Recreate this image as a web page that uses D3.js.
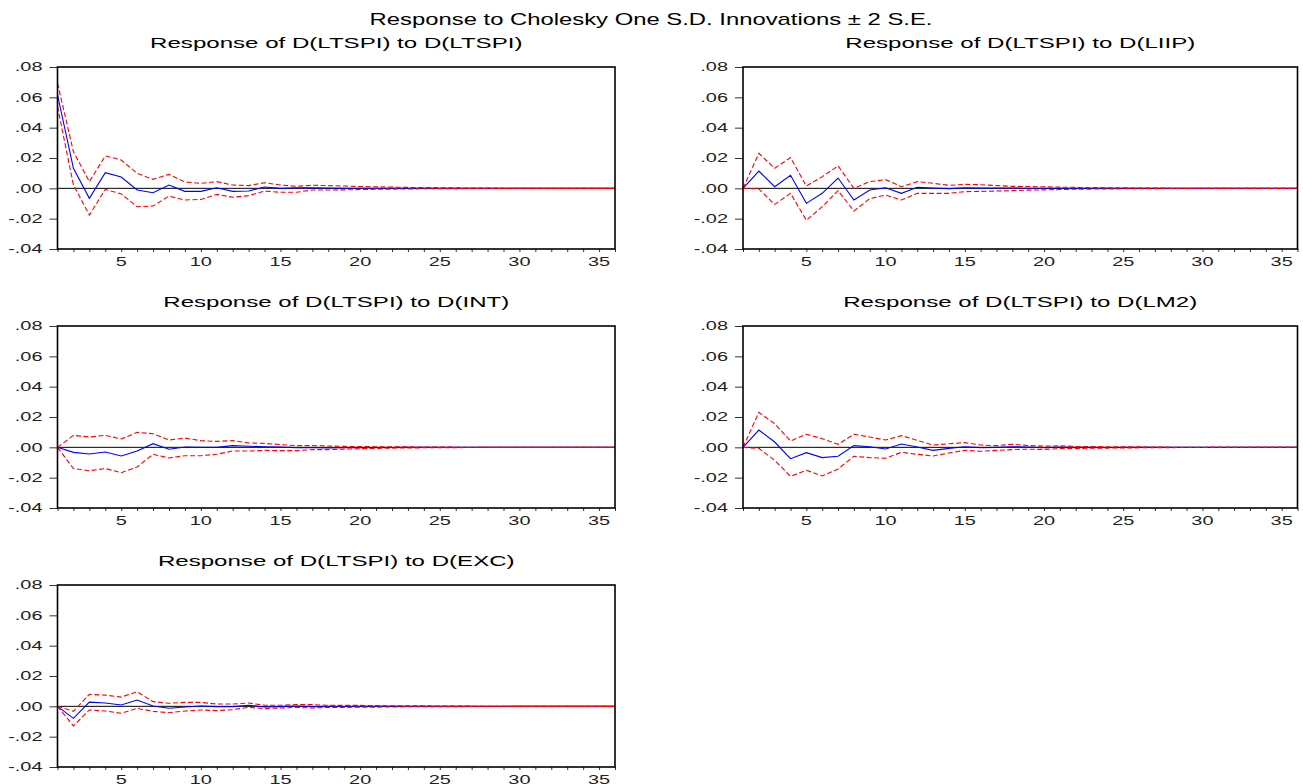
<!DOCTYPE html>
<html><head><meta charset="utf-8">
<script src="https://cdn.jsdelivr.net/npm/d3@7/dist/d3.min.js"></script>
<style>body{margin:0;background:#fff;overflow:hidden}</style>
</head><body>
<svg id="c" width="1303" height="784"></svg>
<script>
// ---------- data ----------
const periods = [1,2,3,4,5,6,7,8,9,10,11,12,13,14,15,16,17,18,19,20,21,22,23,24,25,26,27,28,29,30,31,32,33,34,35,36];

const respLTSPI  = [0.0617,0.0132,-0.0066,0.0103,0.0075,-0.0011,-0.0029,0.0022,-0.0020,-0.0020,0.0004,-0.0020,-0.0018,0.0009,0.0000,0.0003,0.0004,0.0002,0.0001,0.0001,0.0000,0.0001,0,0,0,0,0,0,0,0,0,0,0,0,0,0];
const upperLTSPI = [0.0694,0.0242,0.0044,0.0214,0.0187,0.0099,0.0059,0.0092,0.0042,0.0033,0.0044,0.0022,0.0018,0.0037,0.0022,0.0013,0.0020,0.0018,0.0015,0.0012,0.0010,0.0008,0.0006,0.0005,0.0004,0.0003,0.0002,0.0002,0.0001,0.0001,0.0001,0,0,0,0,0];
const lowerLTSPI = [0.0540,0.0022,-0.0176,-0.0007,-0.0037,-0.0121,-0.0117,-0.0051,-0.0077,-0.0073,-0.0040,-0.0059,-0.0048,-0.0018,-0.0026,-0.0026,-0.0011,-0.0011,-0.0010,-0.0008,-0.0006,-0.0005,-0.0004,-0.0003,-0.0002,-0.0002,-0.0001,-0.0001,-0.0001,0,0,0,0,0,0,0];

const respLIIP  = [0,0.0114,0.0011,0.0086,-0.0099,-0.0033,0.0068,-0.0077,-0.0011,0.0004,-0.0033,0.0007,0.0002,-0.0002,0.0004,0.0002,0.0002,0.0002,0.0001,0.0001,0.0001,0,0,0,0,0,0,0,0,0,0,0,0,0,0,0];
const upperLIIP = [0,0.0231,0.0132,0.0203,0.0015,0.0077,0.0148,0.0000,0.0044,0.0057,0.0011,0.0044,0.0033,0.0020,0.0026,0.0024,0.0018,0.0013,0.0012,0.0010,0.0008,0.0006,0.0005,0.0004,0.0003,0.0002,0.0002,0.0001,0.0001,0,0,0,0,0,0,0];
const lowerLIIP = [0,-0.0004,-0.0106,-0.0033,-0.0211,-0.0121,-0.0015,-0.0150,-0.0068,-0.0044,-0.0077,-0.0033,-0.0033,-0.0033,-0.0022,-0.0020,-0.0018,-0.0015,-0.0012,-0.0010,-0.0008,-0.0006,-0.0005,-0.0004,-0.0003,-0.0002,-0.0002,-0.0001,-0.0001,0,0,0,0,0,0,0];

const respINT  = [0,-0.0033,-0.0044,-0.0031,-0.0057,-0.0024,0.0024,-0.0013,0.0002,0,0,0.0011,0.0007,0.0004,0.0002,-0.0002,-0.0002,-0.0004,-0.0003,-0.0002,-0.0001,-0.0001,0,0,0,0,0,0,0,0,0,0,0,0,0,0];
const upperINT = [0,0.0079,0.0068,0.0079,0.0055,0.0099,0.0090,0.0048,0.0061,0.0044,0.0039,0.0044,0.0029,0.0026,0.0018,0.0011,0.0011,0.0009,0.0006,0.0005,0.0004,0.0004,0.0003,0.0002,0.0002,0.0001,0.0001,0,0,0,0,0,0,0,0,0];
const lowerINT = [0,-0.0140,-0.0154,-0.0140,-0.0167,-0.0129,-0.0046,-0.0070,-0.0055,-0.0055,-0.0046,-0.0024,-0.0024,-0.0020,-0.0022,-0.0022,-0.0015,-0.0015,-0.0012,-0.0009,-0.0007,-0.0005,-0.0004,-0.0003,-0.0002,-0.0002,-0.0001,0,0,0,0,0,0,0,0,0];

const respLM2  = [0,0.0114,0.0035,-0.0075,-0.0035,-0.0068,-0.0059,0.0011,0.0004,-0.0011,0.0022,0.0002,-0.0020,-0.0007,0.0004,-0.0002,0,0.0004,0.0002,-0.0002,0.0002,0.0001,0,-0.0001,0,0,0,0,0,0,0,0,0,0,0,0];
const upperLM2 = [0,0.0230,0.0156,0.0042,0.0086,0.0057,0.0020,0.0086,0.0068,0.0048,0.0077,0.0046,0.0015,0.0024,0.0031,0.0015,0.0011,0.0020,0.0012,0.0008,0.0010,0.0006,0.0005,0.0004,0.0003,0.0003,0.0002,0.0001,0.0001,0.0001,0,0,0,0,0,0];
const lowerLM2 = [0,-0.0007,-0.0086,-0.0191,-0.0151,-0.0189,-0.0143,-0.0059,-0.0068,-0.0072,-0.0033,-0.0046,-0.0057,-0.0037,-0.0020,-0.0026,-0.0020,-0.0015,-0.0012,-0.0014,-0.0008,-0.0008,-0.0006,-0.0005,-0.0004,-0.0003,-0.0002,-0.0002,-0.0001,-0.0001,0,0,0,0,0,0];

const respEXC  = [0,-0.0079,0.0028,0.0022,0.0009,0.0042,0.0002,-0.0013,-0.0004,0.0002,-0.0002,-0.0002,0.0007,-0.0004,-0.0002,0.0002,-0.0002,0,-0.0001,0.0001,0,0,0,0,0,0,0,0,0,0,0,0,0,0,0,0];
const upperEXC = [0,-0.0033,0.0079,0.0074,0.0061,0.0096,0.0031,0.0020,0.0026,0.0026,0.0015,0.0015,0.0022,0.0007,0.0007,0.0011,0.0011,0.0007,0.0006,0.0006,0.0005,0.0004,0.0003,0.0003,0.0002,0.0002,0.0001,0.0001,0.0001,0,0,0,0,0,0,0];
const lowerEXC = [0,-0.0129,-0.0024,-0.0031,-0.0046,-0.0013,-0.0033,-0.0042,-0.0031,-0.0024,-0.0028,-0.0022,-0.0007,-0.0015,-0.0011,-0.0007,-0.0011,-0.0007,-0.0007,-0.0005,-0.0005,-0.0004,-0.0003,-0.0003,-0.0002,-0.0002,-0.0001,-0.0001,-0.0001,0,0,0,0,0,0,0];

const mainTitle = "Response to Cholesky One S.D. Innovations \u00B1 2 S.E.";
const panelTitles = ["Response of D(LTSPI) to D(LTSPI)","Response of D(LTSPI) to D(LIIP)","Response of D(LTSPI) to D(INT)","Response of D(LTSPI) to D(LM2)","Response of D(LTSPI) to D(EXC)"];
const yTickValues = [-0.04,-0.02,0.00,0.02,0.04,0.06,0.08];
const xTickLabels = [5,10,15,20,25,30,35];

// ---------- layout ----------
const cols = [[57.5,615],[743,1297.5]];
const rows = [[67,249],[326,508],[585,767]];
const panels = [
  {title:panelTitles[0], resp:respLTSPI, up:upperLTSPI, lo:lowerLTSPI, c:0, r:0},
  {title:panelTitles[1], resp:respLIIP,  up:upperLIIP,  lo:lowerLIIP,  c:1, r:0},
  {title:panelTitles[2], resp:respINT,   up:upperINT,   lo:lowerINT,   c:0, r:1},
  {title:panelTitles[3], resp:respLM2,   up:upperLM2,   lo:lowerLM2,   c:1, r:1},
  {title:panelTitles[4], resp:respEXC,   up:upperEXC,   lo:lowerEXC,   c:0, r:2}
];

const FONT = "'Liberation Sans', Arial, sans-serif";
const SX = 1.66;
const svg = d3.select("#c");

function stretchText(g, str, x, y, size, anchor, sx, fill){
  return g.append("text")
    .attr("transform", `translate(${x},${y}) scale(${sx},1)`)
    .attr("text-anchor", anchor)
    .attr("font-family", FONT)
    .attr("font-size", size)
    .attr("fill", fill || "#111")
    .text(str);
}

stretchText(svg, mainTitle, 651, 25, 16, "middle", 1.49, "#000");

const fmtY = v => {
  let s = d3.format(".2f")(v).replace("\u2212", "-");
  return s.replace(/^(-?)0\./, "$1.");
};

panels.forEach(p => {
  const [x0,x1] = cols[p.c];
  const [y0,y1] = rows[p.r];
  const x = d3.scaleLinear().domain([1,36]).range([x0,x1]);
  const y = d3.scaleLinear().domain([-0.04,0.08]).range([y1,y0]);
  const g = svg.append("g");

  // title
  stretchText(g, p.title, (x0+x1)/2, y0-19, 14, "middle", 1.72, "#000");

  // y axis ticks
  const ya = g.append("g").attr("transform",`translate(${x0},0)`)
    .call(d3.axisLeft(y).tickValues(yTickValues).tickSize(8).tickFormat(""));
  ya.select(".domain").remove();
  ya.selectAll("line").attr("stroke","#333").attr("stroke-width",1);
  yTickValues.forEach(v => {
    stretchText(g, fmtY(v), x0-15, y(v)+4.3, 12, "end", SX, "#222");
  });

  // x axis ticks
  const xa = g.append("g").attr("transform",`translate(0,${y1})`)
    .call(d3.axisBottom(x).tickValues(periods).tickSize(3).tickFormat(""));
  xa.select(".domain").remove();
  xa.selectAll("line").attr("stroke","#333").attr("stroke-width",1);
  xTickLabels.forEach(v => {
    stretchText(g, String(v), x(v), y1+16.5, 12, "middle", SX, "#222");
  });

  // zero line
  g.append("line").attr("x1",x0).attr("x2",x1).attr("y1",y(0)).attr("y2",y(0))
    .attr("stroke","#000").attr("stroke-width",1);

  const line = d3.line().x((d,i)=>x(periods[i])).y(d=>y(d));

  g.append("path").attr("d", line(p.resp)).attr("fill","none")
    .attr("stroke","#0000ff").attr("stroke-width",1.1);
  [p.up, p.lo].forEach(arr => {
    g.append("path").attr("d", line(arr)).attr("fill","none")
      .attr("stroke","#ff0000").attr("stroke-width",1.1)
      .attr("stroke-dasharray","5,2.5");
  });

  // frame
  g.append("rect").attr("x",x0).attr("y",y0).attr("width",x1-x0).attr("height",y1-y0)
    .attr("fill","none").attr("stroke","#000").attr("stroke-width",1.6);
});
</script>
</body></html>
